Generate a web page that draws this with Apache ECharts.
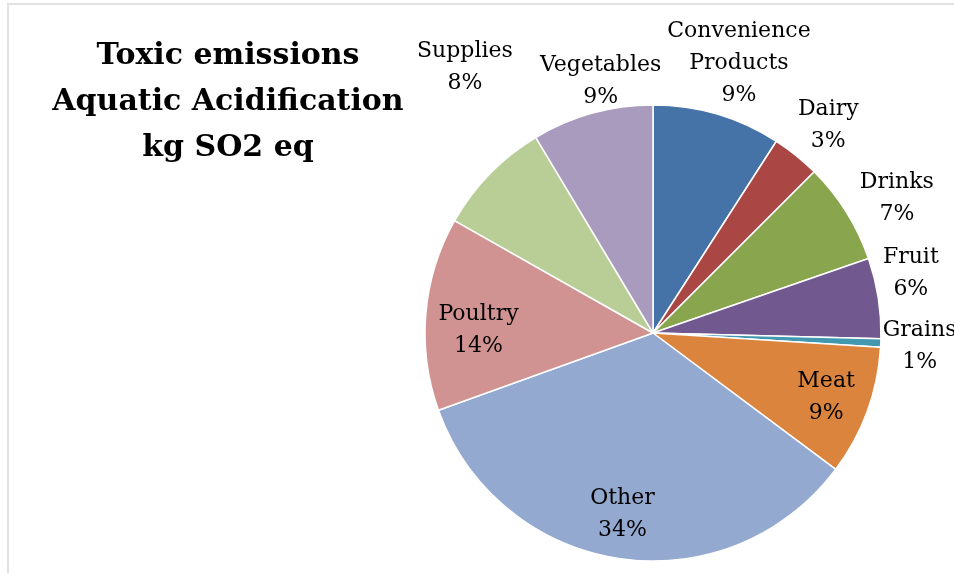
<!DOCTYPE html>
<html>
<head>
<meta charset="utf-8">
<script src="https://cdn.jsdelivr.net/npm/echarts@6/dist/echarts.min.js"></script>
<style>
  html, body { margin: 0; padding: 0; background: #fff; }
  #chart { width: 954px; height: 573px; }
</style>
</head>
<body>
<div id="chart"></div>
<script>
// Share of aquatic acidification (kg SO2 eq) by product group
const categories = ['Convenience Products', 'Dairy', 'Drinks', 'Fruit', 'Grains', 'Meat', 'Other', 'Poultry', 'Supplies', 'Vegetables'];
const shares = [9.1, 3.4, 7.2, 5.7, 0.6, 9.2, 34.3, 13.7, 8.2, 8.6];
const insideLabels = ['Meat', 'Other', 'Poultry'];

const colors = ['#4572A7', '#AA4643', '#89A54E', '#71588F', '#4198AF', '#DB843D', '#93A9CF', '#D19392', '#B9CD96', '#A99BBD'];

// pie geometry
const CX = 653, CY = 333, R = 228;
// hand-placed label adjustments (px)
const labelNudge = {
  'Dairy': [10, -1],
  'Drinks': [15, 6],
  'Fruit': [0, -19],
  'Grains': [-3, 2],
  'Meat': [4, 2],
  'Other': [-4, 3],
  'Poultry': [5, 13],
  'Supplies': [13, -81],
  'Vegetables': [26, 4]
};

const total = shares.reduce((a, b) => a + b, 0);
const midAngles = [];
let acc = 0;
shares.forEach(v => {
  midAngles.push((acc + v / 2) / total * Math.PI * 2);
  acc += v;
});

const chart = echarts.init(document.getElementById('chart'), null, { renderer: 'canvas' });

const fontSerif = '"DejaVu Serif", "Liberation Serif", serif';

function placeLabel(params) {
  const i = params.dataIndex;
  const name = categories[i];
  const a = midAngles[i];
  const dx = Math.sin(a), dy = -Math.cos(a);
  const w = params.labelRect.width, h = params.labelRect.height;
  let cx, cy;
  if (insideLabels.indexOf(name) >= 0) {
    cx = CX + dx * R * 0.79;
    cy = CY + dy * R * 0.79;
  } else {
    const rr = R + 5;
    cx = CX + dx * rr + dx * w / 2;
    cy = CY + dy * rr + dy * h / 2;
  }
  const n = labelNudge[name];
  if (n) { cx += n[0]; cy += n[1]; }
  return { x: cx, y: cy, align: 'center', verticalAlign: 'middle', hideOverlap: false, moveOverlap: null };
}

chart.setOption({
  animation: false,
  backgroundColor: '#ffffff',
  title: {
    text: 'Toxic emissions\nAquatic Acidification\nkg SO2 eq',
    left: 223,
    top: 28,
    textAlign: 'center',
    textStyle: {
      fontFamily: fontSerif,
      fontWeight: 'bold',
      fontSize: 30,
      lineHeight: 46,
      color: '#000'
    }
  },
  graphic: [{
    type: 'polyline',
    shape: { points: [[8, 600], [8, 4], [1000, 4]] },
    style: { stroke: '#e2e2e2', lineWidth: 2, fill: null },
    silent: true
  }],
  series: [{
    type: 'pie',
    center: [CX, CY],
    radius: R,
    startAngle: 90,
    clockwise: true,
    avoidLabelOverlap: false,
    color: colors,
    itemStyle: { borderColor: '#ffffff', borderWidth: 1.5 },
    label: {
      show: true,
      position: 'outside',
      fontFamily: fontSerif,
      fontSize: 22,
      lineHeight: 32,
      color: '#000',
      align: 'center',
      formatter: p => p.name.replace(' ', '\n') + '\n' + Math.round(p.percent) + '%'
    },
    labelLine: { show: false },
    labelLayout: placeLabel,
    emphasis: { disabled: true },
    data: categories.map((name, i) => ({ name: name, value: shares[i] }))
  }]
});
</script>
</body>
</html>
